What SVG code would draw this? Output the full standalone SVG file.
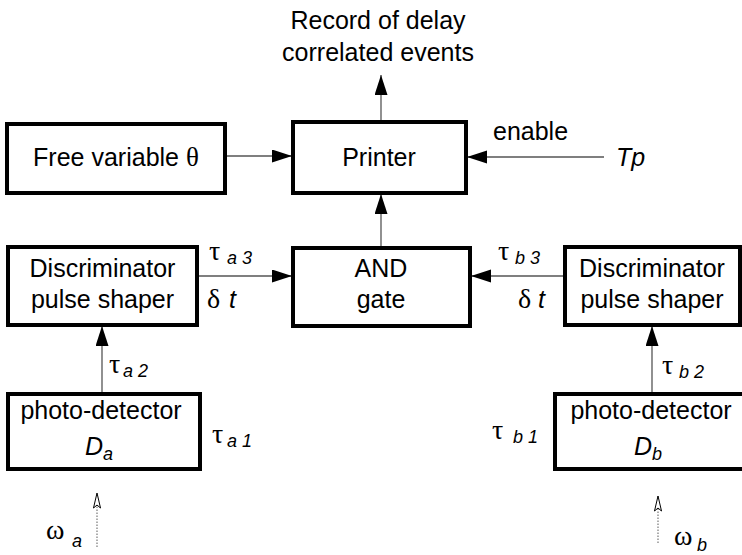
<svg xmlns="http://www.w3.org/2000/svg" width="742" height="555" viewBox="0 0 742 555">
<style>
.box{fill:#fff;stroke:#000;stroke-width:4}
.t{font-family:"Liberation Sans",Arial,sans-serif;font-size:25px;fill:#000}
.c{text-anchor:middle}
.i{font-style:italic}
.s{font-family:"Liberation Sans",Arial,sans-serif;font-size:18px;font-style:italic;fill:#000}
.g{font-family:"Liberation Serif","DejaVu Serif",serif;font-size:28px;fill:#000}
.ln{stroke:#555;stroke-width:1.3;fill:none}
.dot{stroke:#777;stroke-width:1.2;stroke-dasharray:1.5 1.5;fill:none}
</style>
<defs>
<marker id="ah" markerUnits="userSpaceOnUse" markerWidth="21" markerHeight="14" refX="20" refY="6.5" orient="auto">
<path d="M0,0 L20,6.5 L0,13 z" fill="#000"/>
</marker>
<marker id="oh" markerUnits="userSpaceOnUse" markerWidth="18" markerHeight="10" refX="16" refY="4" orient="auto">
<path d="M1,0.5 L16,4 L1,7.5 L4,4 z" fill="#fff" stroke="#000" stroke-width="1"/>
</marker>
</defs>
<g id="connectors">
<line class="ln" x1="381" y1="122" x2="381" y2="75" marker-end="url(#ah)"/>
<line class="ln" x1="225" y1="156" x2="292" y2="156" marker-end="url(#ah)"/>
<line class="ln" x1="604" y1="157" x2="467" y2="157" marker-end="url(#ah)"/>
<line class="ln" x1="197" y1="276" x2="292" y2="276" marker-end="url(#ah)"/>
<line class="ln" x1="565" y1="276" x2="471" y2="276" marker-end="url(#ah)"/>
<line class="ln" x1="381" y1="248" x2="381" y2="194" marker-end="url(#ah)"/>
<line class="ln" x1="102" y1="394" x2="102" y2="326" marker-end="url(#ah)"/>
<line class="ln" x1="652" y1="394" x2="652" y2="326" marker-end="url(#ah)"/>
<line class="dot" x1="97" y1="547" x2="97" y2="493" marker-end="url(#oh)"/>
<line class="dot" x1="658" y1="543" x2="658" y2="496" marker-end="url(#oh)"/>
</g>
<g id="record-label">
<text class="t c" x="378" y="29">Record of delay</text>
<text class="t c" x="378" y="61">correlated events</text>
</g>
<g id="free-variable">
<rect class="box" x="7" y="124" width="218" height="69"/>
<text class="t c" x="116" y="166">Free variable <tspan font-family="Liberation Serif,serif" font-size="27">θ</tspan></text>
</g>
<g id="printer">
<rect class="box" x="293" y="122" width="173" height="71"/>
<text class="t c" x="379" y="166">Printer</text>
</g>
<g id="enable-label">
<text class="t" x="493" y="140">enable</text>
<text class="t i" x="616" y="166">Tp</text>
</g>
<g id="disc-a">
<rect class="box" x="8" y="247" width="189" height="78"/>
<text class="t c" x="102.5" y="277">Discriminator</text>
<text class="t c" x="102.5" y="308">pulse shaper</text>
</g>
<g id="and-gate">
<rect class="box" x="293" y="248" width="177" height="78"/>
<text class="t c" x="381" y="277">AND</text>
<text class="t c" x="381" y="308">gate</text>
</g>
<g id="disc-b">
<rect class="box" x="565" y="247" width="175" height="78"/>
<text class="t c" x="652" y="277">Discriminator</text>
<text class="t c" x="652" y="308">pulse shaper</text>
</g>
<g id="pd-a">
<rect class="box" x="8" y="394" width="192" height="75"/>
<text class="t c" x="101" y="419">photo-detector</text>
<text class="t i" x="85" y="455">D<tspan font-size="18" dy="5">a</tspan></text>
</g>
<g id="pd-b">
<rect class="box" x="555" y="394" width="200" height="75"/>
<text class="t c" x="651" y="419">photo-detector</text>
<text class="t i" x="634" y="455">D<tspan font-size="18" dy="5">b</tspan></text>
</g>
<g id="labels">
<text class="g" x="209" y="260">τ</text><text class="s" x="227" y="264">a 3</text>
<text class="g" x="207" y="308">δ</text><text class="t i" x="229" y="308">t</text>
<text class="g" x="109" y="373">τ</text><text class="s" x="123" y="377">a 2</text>
<text class="g" x="212" y="443">τ</text><text class="s" x="227" y="447">a 1</text>
<text class="g" x="498" y="260">τ</text><text class="s" x="515" y="264">b 3</text>
<text class="g" x="518" y="308">δ</text><text class="t i" x="538" y="308">t</text>
<text class="g" x="662" y="374">τ</text><text class="s" x="679" y="378">b 2</text>
<text class="g" x="492" y="439">τ</text><text class="s" x="513" y="443">b 1</text>
<text class="g" x="46" y="539">ω</text><text class="s" x="72" y="547">a</text>
<text class="g" x="674" y="545">ω</text><text class="s" x="697" y="551">b</text>
</g>
</svg>
